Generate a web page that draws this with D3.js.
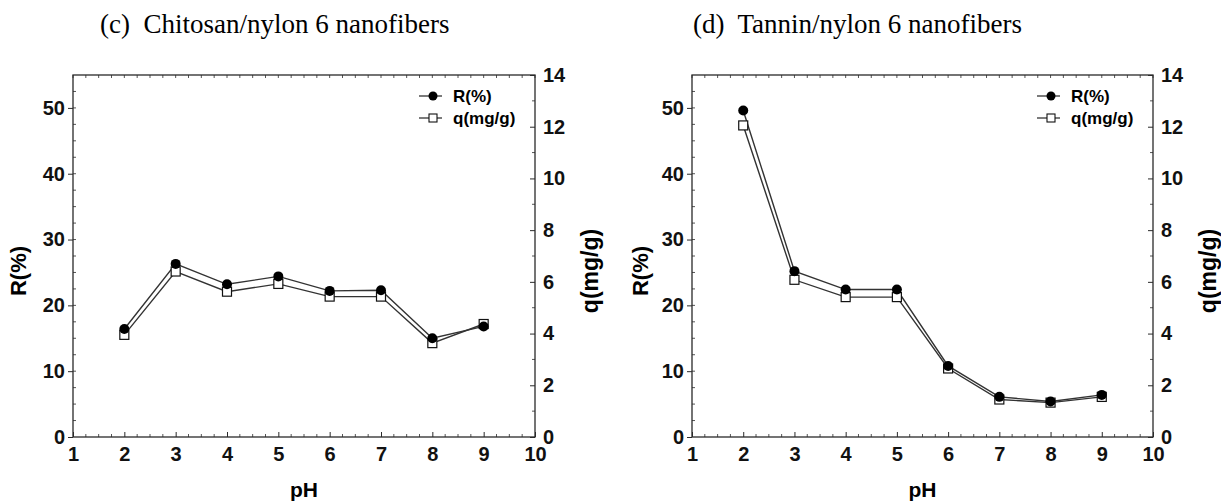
<!DOCTYPE html>
<html>
<head>
<meta charset="utf-8">
<script src="https://cdn.jsdelivr.net/npm/d3@7"></script>
<style>
  body { margin: 0; background: #fff; }
  svg { display: block; }
</style>
</head>
<body>
<div id="chart"></div>
<script>
// pH values on the x axis
const phValues = [2, 3, 4, 5, 6, 7, 8, 9]

// (c) chitosan/nylon 6
const chitosanR = [16.4, 26.3, 23.2, 24.4, 22.2, 22.3, 15.0, 16.8]
const chitosanQ = [3.95, 6.40, 5.62, 5.92, 5.43, 5.43, 3.63, 4.37]

// (d) tannin/nylon 6
const tanninR = [49.6, 25.2, 22.4, 22.4, 10.8, 6.1, 5.4, 6.4]
const tanninQ = [12.05, 6.08, 5.41, 5.41, 2.65, 1.45, 1.33, 1.55]

const xTicks = d3.range(1, 11)
const rTicks = [0, 10, 20, 30, 40, 50]
const qTicks = [0, 2, 4, 6, 8, 10, 12, 14]

const titles = ["(c)  Chitosan/nylon 6 nanofibers", "(d)  Tannin/nylon 6 nanofibers"]

const W = 1221, H = 502
const svg = d3.select("#chart").append("svg")
    .attr("width", W)
    .attr("height", H)

const axisColor = "#2a2a2a"
const sans = "Arial, 'Liberation Sans', sans-serif"

function drawPanel(opts){
    const {x0, x1, yTop, yBot, rData, qData, title, titleX, rLabelX, qLabelX} = opts
    const g = svg.append("g")

    const x = d3.scaleLinear().domain([1, 10]).range([x0, x1])
    const yR = d3.scaleLinear().domain([0, 55]).range([yBot, yTop])
    const yQ = d3.scaleLinear().domain([0, 14]).range([yBot, yTop])

    // title
    svg.append("text")
        .attr("x", titleX)
        .attr("y", 33)
        .attr("font-family", "'Liberation Serif', 'Times New Roman', serif")
        .attr("font-size", 27)
        .style("white-space", "pre")
        .text(title)

    // frame
    g.append("rect")
        .attr("x", x0).attr("y", yTop)
        .attr("width", x1 - x0).attr("height", yBot - yTop)
        .attr("fill", "none")
        .attr("stroke", axisColor)
        .attr("stroke-width", 1.3)

    // bottom axis, ticks inside
    const xAxis = d3.axisBottom(x).tickValues(xTicks).tickSizeInner(-5).tickSizeOuter(0).tickPadding(10)
    const gx = g.append("g").attr("transform", `translate(0,${yBot})`).call(xAxis)
    gx.select(".domain").remove()
    gx.selectAll("text")
        .attr("font-family", sans).attr("font-weight", "bold").attr("font-size", 20)
        .attr("fill", "#111")
    gx.selectAll("line").attr("stroke", axisColor)

    // minor x ticks, bottom and top
    const xMinor = d3.range(1, 10.001, 0.25).filter(v => Math.abs(v - Math.round(v)) > 0.01)
    g.selectAll(".xminor").data(xMinor).join("line")
        .attr("x1", d => x(d)).attr("x2", d => x(d))
        .attr("y1", yBot).attr("y2", yBot - 3)
        .attr("stroke", axisColor).attr("stroke-width", 0.8)
    g.selectAll(".xtop").data(d3.range(1, 10.001, 0.25)).join("line")
        .attr("x1", d => x(d)).attr("x2", d => x(d))
        .attr("y1", yTop).attr("y2", yTop + 3)
        .attr("stroke", axisColor).attr("stroke-width", 0.8)

    // left axis, major ticks out
    const yAxisL = d3.axisLeft(yR).tickValues(rTicks).tickSizeInner(5).tickSizeOuter(0).tickPadding(3)
    const gl = g.append("g").attr("transform", `translate(${x0},0)`).call(yAxisL)
    gl.select(".domain").remove()
    gl.selectAll("text")
        .attr("font-family", sans).attr("font-weight", "bold").attr("font-size", 20)
        .attr("fill", "#111")
    gl.selectAll("line").attr("stroke", axisColor)
    g.selectAll(".rminor").data(d3.range(2.5, 55, 2.5)).join("line")
        .attr("x1", x0).attr("x2", x0 + 3)
        .attr("y1", d => yR(d)).attr("y2", d => yR(d))
        .attr("stroke", axisColor).attr("stroke-width", 0.8)

    // right axis, ticks in
    const yAxisR = d3.axisRight(yQ).tickValues(qTicks).tickSizeInner(-5).tickSizeOuter(0).tickPadding(8)
    const gr = g.append("g").attr("transform", `translate(${x1},0)`).call(yAxisR)
    gr.select(".domain").remove()
    gr.selectAll("text")
        .attr("font-family", sans).attr("font-weight", "bold").attr("font-size", 20)
        .attr("fill", "#111")
    gr.selectAll("line").attr("stroke", axisColor)
    g.selectAll(".qminor").data(d3.range(1, 14, 2)).join("line")
        .attr("x1", x1).attr("x2", x1 - 3)
        .attr("y1", d => yQ(d)).attr("y2", d => yQ(d))
        .attr("stroke", axisColor).attr("stroke-width", 0.8)

    // axis titles
    g.append("text")
        .attr("x", (x0 + x1) / 2).attr("y", 497)
        .attr("text-anchor", "middle")
        .attr("font-family", sans).attr("font-weight", "bold").attr("font-size", 21)
        .text("pH")
    g.append("text")
        .attr("transform", `translate(${rLabelX},271) rotate(-90)`)
        .attr("text-anchor", "middle")
        .attr("font-family", sans).attr("font-weight", "bold").attr("font-size", 22)
        .text("R(%)")
    g.append("text")
        .attr("transform", `translate(${qLabelX},271) rotate(-90)`)
        .attr("text-anchor", "middle")
        .attr("font-family", sans).attr("font-weight", "bold").attr("font-size", 23)
        .text("q(mg/g)")

    const rPts = phValues.map((p, i) => [x(p), yR(rData[i])])
    const qPts = phValues.map((p, i) => [x(p), yQ(qData[i])])
    const line = d3.line()

    g.append("path").attr("d", line(qPts))
        .attr("fill", "none").attr("stroke", "#333").attr("stroke-width", 1.4)
    g.append("path").attr("d", line(rPts))
        .attr("fill", "none").attr("stroke", "#333").attr("stroke-width", 1.4)

    g.selectAll(".sq").data(qPts).join("rect")
        .attr("x", d => d[0] - 4.5).attr("y", d => d[1] - 4.5)
        .attr("width", 9).attr("height", 9)
        .attr("fill", "#fff").attr("stroke", "#111").attr("stroke-width", 1.2)
    g.selectAll(".dot").data(rPts).join("circle")
        .attr("cx", d => d[0]).attr("cy", d => d[1]).attr("r", 5)
        .attr("fill", "#000")

    // legend
    const lx = x1 - 116
    const legend = [
        {label: "R(%)", y: yTop + 21, kind: "dot"},
        {label: "q(mg/g)", y: yTop + 43, kind: "sq"}
    ]
    legend.forEach(d => {
        g.append("line")
            .attr("x1", lx).attr("x2", lx + 23)
            .attr("y1", d.y).attr("y2", d.y)
            .attr("stroke", "#222").attr("stroke-width", 1.2)
        if (d.kind === "dot"){
            g.append("circle").attr("cx", lx + 14).attr("cy", d.y).attr("r", 4.5).attr("fill", "#000")
        } else {
            g.append("rect").attr("x", lx + 10).attr("y", d.y - 4).attr("width", 8).attr("height", 8)
                .attr("fill", "#fff").attr("stroke", "#111").attr("stroke-width", 1.1)
        }
        g.append("text")
            .attr("x", lx + 34).attr("y", d.y + 6)
            .attr("font-family", sans).attr("font-weight", "bold").attr("font-size", 17)
            .text(d.label)
    })
}

drawPanel({x0: 73, x1: 535, yTop: 75, yBot: 437, rData: chitosanR, qData: chitosanQ,
    title: titles[0], titleX: 100, rLabelX: 26, qLabelX: 598})
drawPanel({x0: 692, x1: 1153, yTop: 75, yBot: 437, rData: tanninR, qData: tanninQ,
    title: titles[1], titleX: 693, rLabelX: 648, qLabelX: 1216})
</script>
</body>
</html>
